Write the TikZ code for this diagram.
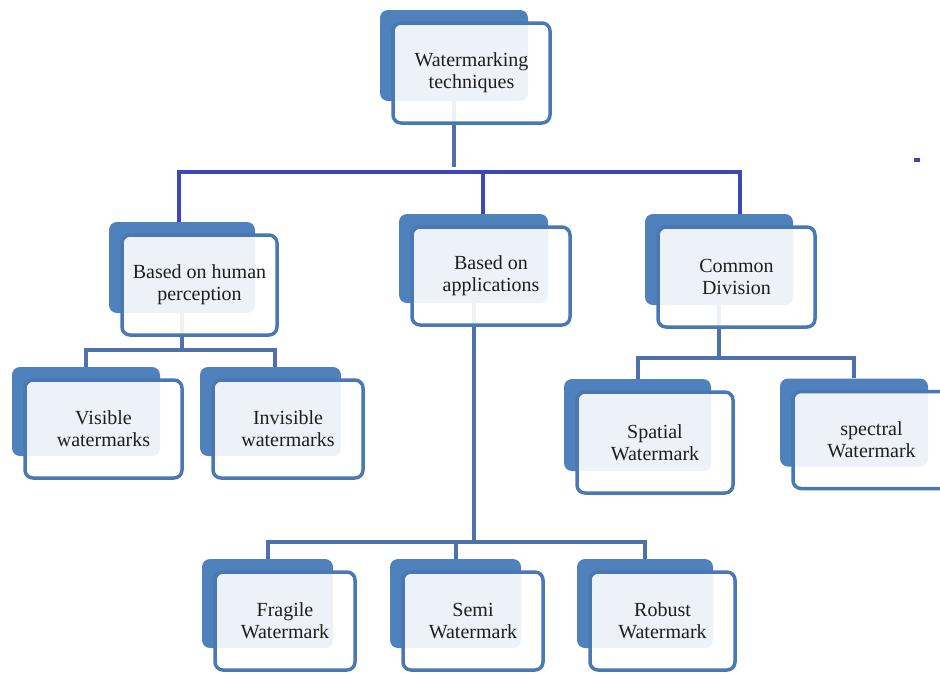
\documentclass[tikz,border=0pt]{standalone}
\usepackage{fontspec}
\setmainfont{Liberation Serif}
\newfontfamily\wmfont{Liberation Serif}
\usetikzlibrary{backgrounds}
\definecolor{backblue}{HTML}{4F81BD}
\definecolor{rimblue}{HTML}{4A78B2}
\definecolor{stemblue}{HTML}{4D71A8}
\definecolor{busblue}{HTML}{3D46BD}
\definecolor{inkgray}{HTML}{1E1E1E}

\begin{document}
\begin{tikzpicture}[
		x=1pt, y=-1pt,
		backbox/.style={rectangle, rounded corners=8pt, fill=backblue, inner sep=0pt},
		frontbox/.style={rectangle, rounded corners=8pt, draw=rimblue, line width=3.5pt,
			fill=white, fill opacity=0.9, text opacity=1, text=inkgray, align=center,
			inner sep=0pt, font=\wmfont\fontsize{20}{22}\selectfont},
		stem/.style={draw=stemblue, line width=4pt},
		bus/.style={draw=busblue, line width=4pt}
		]
		\useasboundingbox (0,0) rectangle (940,673);
		% boxes: name / centre x / centre y / width / height / text
		\foreach \nm/\cx/\cy/\w/\h/\txt in {
			root/471.5/73/157/100/{Watermarking\\techniques},
			human/199.5/285/155/100/{Based on human\\perception},
			appl/491/276/158/98/{Based on\\applications},
			common/736.5/277/157/100/{Common\\Division},
			visible/103.5/429/157/98/{Visible\\watermarks},
			invisible/288/429/150/98/{Invisible\\watermarks},
			spatial/655/442.5/156/101/{Spatial\\Watermark},
			spectral/871.5/440/157/97/{spectral\\Watermark},
			fragile/285/621/140/98/{Fragile\\Watermark},
			semi/473/621/140/98/{Semi\\Watermark},
			robust/662.5/621/145/98/{Robust\\Watermark}}
		{
			\pgfmathsetmacro\bw{\w-9}
			\pgfmathsetmacro\bh{\h-9}
			\node[backbox, minimum width=\bw pt, minimum height=\bh pt] (\nm) at (\cx-17.5,\cy-17.5) {};
			\node[frontbox, minimum width=\w pt, minimum height=\h pt] (\nm-f) at (\cx,\cy) {\txt};
		}
		
		\coordinate (bus) at (454,172);
		\coordinate (hbar) at (182,350);
		\coordinate (cbar) at (719,358);
		\coordinate (abar) at (473.5,542);
		
		\begin{scope}[on background layer]
			\draw[stem] (root.south) -- ([yshift=5pt]root.south |- bus);
			\draw[bus] ([xshift=-3pt]human.north) |- (bus) -| ([xshift=21pt]common.north);
			\draw[bus] ([xshift=9pt]appl.north) -- ([xshift=9pt]appl.north |- bus);
			
			\draw[stem] (human.south) -- (hbar);
			\draw[stem] (visible.north) |- (hbar) -| ([xshift=4pt]invisible.north);
			
			\draw[stem] (common.south) -- (cbar);
			\draw[stem] (spatial.north) |- (cbar) -| (spectral.north);
			
			\draw[stem] (appl.south) -- (abar);
			\draw[stem] (fragile.north) |- (abar) -| (robust.north);
			\draw[stem] (semi.north) -- (semi.north |- abar);
		\end{scope}
		
		\fill[busblue] (914,158) rectangle (920,162);
\end{tikzpicture}
\end{document}
